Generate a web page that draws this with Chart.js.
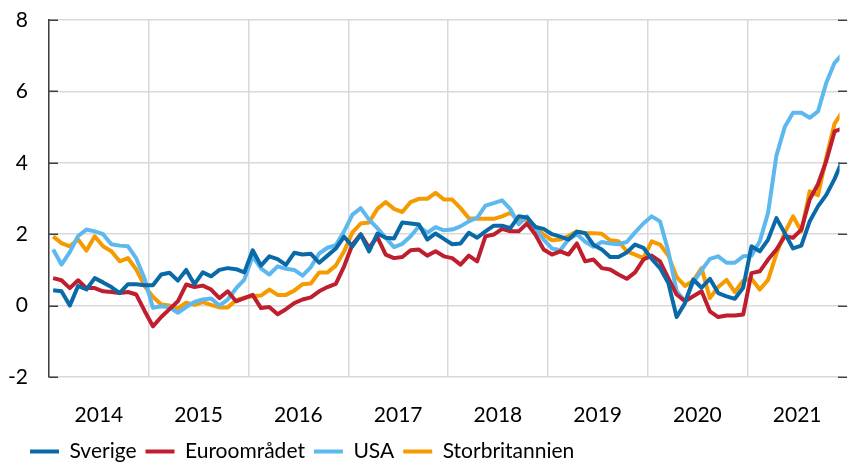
<!DOCTYPE html>
<html>
<head>
<meta charset="utf-8">
<script src="https://cdn.jsdelivr.net/npm/chart.js@4.4.1/dist/chart.umd.min.js"></script>
<style>
  html, body { margin: 0; padding: 0; background: #fff; overflow: hidden; }
  #wrap { width: 848px; height: 462px; overflow: hidden; }
</style>
</head>
<body>
<div id="wrap"><canvas id="chart" width="848" height="472"></canvas></div>
<script>
// årsetiketter på x-axeln (månadsdata jan 2014 - dec 2021)
const years = ['2014', '2015', '2016', '2017', '2018', '2019', '2020', '2021'];
const monthNames = ['jan', 'feb', 'mar', 'apr', 'maj', 'jun', 'jul', 'aug', 'sep', 'okt', 'nov', 'dec'];
const months = years.flatMap(y => monthNames.map(m => m + ' ' + y));

const yTicks = [-2, 0, 2, 4, 6, 8];

const sverige = [
    0.43, 0.40, 0.00, 0.55, 0.45, 0.77, 0.65, 0.52, 0.35, 0.60, 0.60, 0.57,
    0.57, 0.87, 0.92, 0.70, 1.00, 0.60, 0.93, 0.82, 1.00, 1.05, 1.02, 0.93,
    1.55, 1.12, 1.38, 1.30, 1.14, 1.48, 1.43, 1.45, 1.20, 1.40, 1.60, 1.93,
    1.66, 1.99, 1.52, 2.02, 1.90, 1.88, 2.33, 2.30, 2.27, 1.85, 2.02, 1.87,
    1.72, 1.74, 2.04, 1.90, 2.08, 2.24, 2.24, 2.17, 2.50, 2.47, 2.20, 2.15,
    2.00, 1.93, 1.85, 2.07, 2.03, 1.70, 1.57, 1.36, 1.36, 1.49, 1.71, 1.62,
    1.31, 1.05, 0.63, -0.32, 0.07, 0.73, 0.50, 0.75, 0.35, 0.26, 0.19, 0.50,
    1.66, 1.52, 1.85, 2.45, 2.03, 1.60, 1.68, 2.36, 2.78, 3.10, 3.55, 4.10
];
const euroomradet = [
    0.77, 0.71, 0.49, 0.71, 0.49, 0.49, 0.40, 0.38, 0.35, 0.38, 0.31, -0.15,
    -0.58, -0.32, -0.10, 0.12, 0.59, 0.52, 0.56, 0.45, 0.21, 0.40, 0.12, 0.21,
    0.30, -0.07, -0.04, -0.24, -0.10, 0.07, 0.17, 0.23, 0.40, 0.52, 0.61, 1.10,
    1.71, 2.00, 1.62, 1.92, 1.43, 1.33, 1.36, 1.55, 1.57, 1.40, 1.52, 1.38,
    1.33, 1.15, 1.40, 1.24, 1.94, 1.99, 2.15, 2.08, 2.08, 2.30, 1.99, 1.57,
    1.43, 1.52, 1.43, 1.74, 1.24, 1.29, 1.05, 1.01, 0.87, 0.75, 0.93, 1.29,
    1.40, 1.24, 0.77, 0.31, 0.12, 0.26, 0.40, -0.16, -0.32, -0.28, -0.28, -0.25,
    0.91, 0.96, 1.29, 1.57, 1.94, 1.90, 2.13, 2.97, 3.40, 4.05, 4.88, 4.97
];
const usa = [
    1.57, 1.15, 1.50, 1.95, 2.13, 2.08, 2.00, 1.72, 1.68, 1.66, 1.32, 0.75,
    -0.06, -0.02, -0.05, -0.20, -0.04, 0.10, 0.17, 0.20, 0.00, 0.17, 0.48, 0.73,
    1.38, 1.04, 0.87, 1.10, 1.03, 1.00, 0.84, 1.08, 1.46, 1.62, 1.69, 2.08,
    2.55, 2.73, 2.41, 2.17, 1.90, 1.64, 1.73, 1.94, 2.22, 2.04, 2.20, 2.11,
    2.13, 2.22, 2.36, 2.46, 2.80, 2.87, 2.95, 2.70, 2.28, 2.50, 2.17, 1.85,
    1.60, 1.55, 1.86, 2.00, 1.79, 1.65, 1.78, 1.74, 1.72, 1.78, 2.05, 2.30,
    2.50, 2.36, 1.52, 0.40, 0.12, 0.65, 0.99, 1.31, 1.38, 1.20, 1.20, 1.38,
    1.40, 1.80, 2.60, 4.20, 5.00, 5.40, 5.40, 5.26, 5.44, 6.24, 6.80, 7.05
];
const storbritannien = [
    1.94, 1.75, 1.66, 1.85, 1.54, 1.94, 1.66, 1.52, 1.24, 1.33, 1.01, 0.55,
    0.25, 0.03, 0.00, -0.08, 0.08, 0.02, 0.10, 0.02, -0.05, -0.05, 0.15, 0.22,
    0.26, 0.28, 0.45, 0.30, 0.30, 0.42, 0.60, 0.62, 0.93, 0.93, 1.12, 1.52,
    2.05, 2.30, 2.33, 2.71, 2.90, 2.71, 2.62, 2.90, 2.99, 2.99, 3.16, 2.97,
    2.97, 2.73, 2.45, 2.43, 2.43, 2.43, 2.50, 2.60, 2.38, 2.41, 2.22, 1.99,
    1.83, 1.85, 1.95, 2.08, 2.03, 2.03, 2.01, 1.83, 1.80, 1.52, 1.43, 1.33,
    1.80, 1.71, 1.40, 0.80, 0.55, 0.70, 1.05, 0.21, 0.52, 0.72, 0.38, 0.70,
    0.75, 0.45, 0.72, 1.45, 2.04, 2.50, 2.08, 3.20, 3.09, 4.15, 5.10, 5.45
];

const FONT = { family: 'Lato', size: 21 };
const GRID = '#d9d9d9';
const AXIS = '#404040';

// månad i -> x = i, året börjar vid -0.5
const xMin = -0.5;
const xMax = 94.6;
const yearStarts = years.map((y, i) => i * 12 - 0.5);
const yearMids = years.map((y, i) => i * 12 + 5.5);

const toPoints = arr => arr.map((v, i) => ({ x: i, y: v, m: months[i] }));

const series = [
    { label: 'Sverige', data: sverige, color: '#0a6aa8' },
    { label: 'Euroområdet', data: euroomradet, color: '#be1e2d' },
    { label: 'USA', data: usa, color: '#5cb8ee' },
    { label: 'Storbritannien', data: storbritannien, color: '#f59b00' }
];

// små inåtvända streck på vänster och höger axel
const axisTicks = {
    id: 'axisTicks',
    afterLayout(chart) {
        // låt y-etiketterna gå ut i vänstermarginalen utan att klippas
        chart.scales.y.left = 0;
    },
    beforeDatasetsDraw(chart) {
        const { ctx, chartArea, scales } = chart;
        const right = scales.x.getPixelForValue(95.5);
        ctx.save();
        ctx.strokeStyle = AXIS;
        ctx.lineWidth = 1.5;
        scales.y.ticks.forEach(t => {
            const y = Math.round(scales.y.getPixelForValue(t.value)) + 0.25;
            ctx.beginPath();
            ctx.moveTo(chartArea.left, y);
            ctx.lineTo(chartArea.left + 9, y);
            ctx.moveTo(right - 9, y);
            ctx.lineTo(right, y);
            ctx.stroke();
        });
        ctx.restore();
    }
};

new Chart(document.getElementById('chart'), {
    type: 'line',
    data: {
        datasets: series.map(s => ({
            label: s.label,
            data: toPoints(s.data),
            borderColor: s.color,
            backgroundColor: s.color,
            borderWidth: 4,
            pointRadius: 0,
            tension: 0,
            borderJoinStyle: 'round',
            xAxisID: 'x',
            yAxisID: 'y'
        }))
    },
    options: {
        responsive: false,
        devicePixelRatio: 1,
        animation: false,
        events: [],
        layout: { padding: { top: 20, left: 21, right: 0, bottom: 0 } },
        plugins: {
            tooltip: { enabled: false },
            legend: {
                position: 'bottom',
                align: 'start',
                labels: {
                    font: FONT,
                    color: '#000',
                    boxWidth: 29,
                    boxHeight: 4,
                    padding: 9,
                    generateLabels: c => Chart.defaults.plugins.legend.labels.generateLabels(c)
                        .map(l => ({ ...l, lineWidth: 0 }))
                }
            }
        },
        scales: {
            x: {
                type: 'linear',
                position: 'bottom',
                min: xMin,
                max: xMax,
                afterBuildTicks: s => { s.ticks = yearStarts.map(v => ({ value: v })); },
                ticks: { display: false },
                grid: { color: GRID, lineWidth: 1.5, drawTicks: false },
                border: { display: false },
                afterFit: s => { s.height = 0; }
            },
            xl: {
                type: 'linear',
                position: 'bottom',
                min: xMin,
                max: xMax,
                afterBuildTicks: s => { s.ticks = yearMids.map(v => ({ value: v })); },
                ticks: {
                    font: FONT,
                    color: '#000',
                    padding: 26,
                    maxRotation: 0,
                    autoSkip: false,
                    callback: (v, i) => years[i]
                },
                grid: { display: false, drawTicks: false },
                border: { display: false },
                afterFit: s => { s.height = 55; }
            },
            y: {
                min: -2,
                max: 8,
                afterBuildTicks: s => { s.ticks = yTicks.map(v => ({ value: v })); },
                ticks: { font: FONT, color: '#000', padding: 21 },
                grid: { color: GRID, lineWidth: 1.5, drawTicks: false },
                border: { display: true, color: AXIS, width: 1.5 },
                afterFit: s => {
                    s.width = 28;
                    // etikettens padding ska inte ge extra luft ovanför diagrammet
                    s.paddingTop = 0;
                    s.paddingBottom = 0;
                }
            }
        }
    },
    plugins: [axisTicks]
});
</script>
</body>
</html>
